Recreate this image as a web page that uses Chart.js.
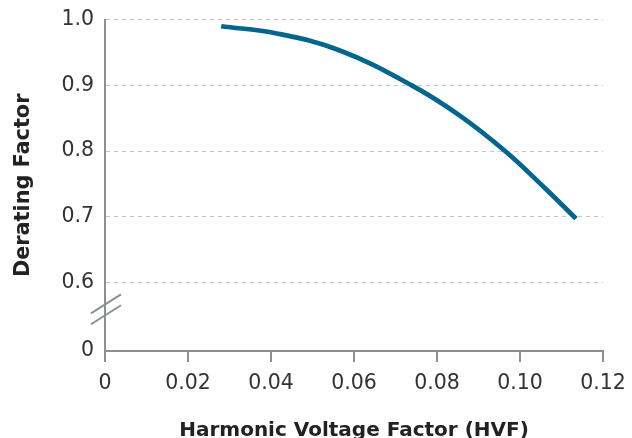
<!DOCTYPE html>
<html><head><meta charset="utf-8">
<script src="https://cdn.jsdelivr.net/npm/chart.js@4/dist/chart.umd.min.js"></script>
<style>html,body{margin:0;padding:0;background:#fff}#wrap{width:632px;height:438px;position:relative}</style>
</head><body><div id="wrap"><canvas id="c"></canvas></div>
<script>
const hvf = [0.028, 0.0414, 0.0566, 0.0739, 0.0855, 0.0964, 0.1056, 0.1135];
const deratingFactor = [0.990, 0.979, 0.953, 0.900, 0.854, 0.800, 0.746, 0.697];
const xTickValues = [0, 0.02, 0.04, 0.06, 0.08, 0.10, 0.12];
const xTickLabels = ['0', '0.02', '0.04', '0.06', '0.08', '0.10', '0.12'];
const yBreakValue = 0.4954; // axis position shown as "0" below the axis break
const yTickValues = [yBreakValue, 0.6, 0.7, 0.8, 0.9, 1.0];
const yTickLabels = ['0', '0.6', '0.7', '0.8', '0.9', '1.0'];
const xTitle = 'Harmonic Voltage Factor (HVF)';
const yTitle = 'Derating Factor';

const FONT = '"DejaVu Sans", "Open Sans", sans-serif';
const AXIS = '#8b9095';
const TEXT = '#333333';

const breakPlugin = {
  id: 'axisBreak',
  afterDraw(chart) {
    const ys = chart.scales.y;
    const x0 = chart.chartArea.left;
    const yMid = ys.getPixelForValue(0.6) + 27;
    const ctx = chart.ctx;
    ctx.save();
    ctx.strokeStyle = AXIS;
    ctx.lineWidth = 2;
    [-5.4, 5.4].forEach(d => {
      const yc = yMid + d;
      ctx.beginPath();
      ctx.moveTo(x0 - 14, yc + 9.5);
      ctx.lineTo(x0 + 16, yc - 9.5);
      ctx.stroke();
    });
    ctx.restore();
  }
};

function clearPad(s) { s.paddingTop = 0; s.paddingBottom = 0; s.paddingLeft = 0; s.paddingRight = 0; }

new Chart(document.getElementById('c'), {
  type: 'line',
  data: {
    datasets: [{
      data: hvf.map((x, i) => ({x: x, y: deratingFactor[i]})),
      borderColor: '#00658f',
      borderWidth: 4.7,
      pointRadius: 0,
      fill: false,
      tension: 0.4
    }]
  },
  options: {
    responsive: true,
    maintainAspectRatio: false,
    animation: false,
    devicePixelRatio: 1,
    layout: {padding: {top: 19.7, right: 29, left: 0, bottom: 0}},
    plugins: {legend: {display: false}, tooltip: {enabled: false}},
    scales: {
      x: {
        type: 'linear', min: 0, max: 0.12,
        afterBuildTicks: s => { s.ticks = xTickValues.map(v => ({value: v})); },
        afterFit: s => { s.height = 87; clearPad(s); },
        ticks: {
          callback: (v, i) => xTickLabels[i],
          font: {family: FONT, size: 20.5}, color: TEXT, padding: 9,
          maxRotation: 0, autoSkip: false
        },
        grid: {drawOnChartArea: false, drawTicks: true, tickLength: 11, color: AXIS, lineWidth: 2},
        border: {display: true, color: AXIS, width: 2},
        title: {display: true, text: xTitle, color: '#222', font: {family: FONT, size: 20, weight: 'bold', lineHeight: 0.75}, padding: {top: 0, bottom: 0}}
      },
      y: {
        type: 'linear', min: yBreakValue, max: 1.0,
        afterBuildTicks: s => { s.ticks = yTickValues.map(v => ({value: v})); },
        afterFit: s => { s.width = 105; clearPad(s); },
        ticks: {
          callback: (v, i) => yTickLabels[i],
          font: {family: FONT, size: 20.5}, color: TEXT, padding: 11, autoSkip: false
        },
        grid: {
          drawTicks: false, lineWidth: 1,
          color: c => (c.tick && c.tick.value === yBreakValue) ? 'rgba(0,0,0,0)' : '#c6c6c6'
        },
        border: {display: true, color: AXIS, width: 2, dash: [4, 4]},
        title: {display: true, text: yTitle, color: '#222', font: {family: FONT, size: 20.8, weight: 'bold', lineHeight: 1.2}, padding: {top: 11, bottom: 0}}
      }
    }
  },
  plugins: [breakPlugin]
});
</script>
</body></html>
